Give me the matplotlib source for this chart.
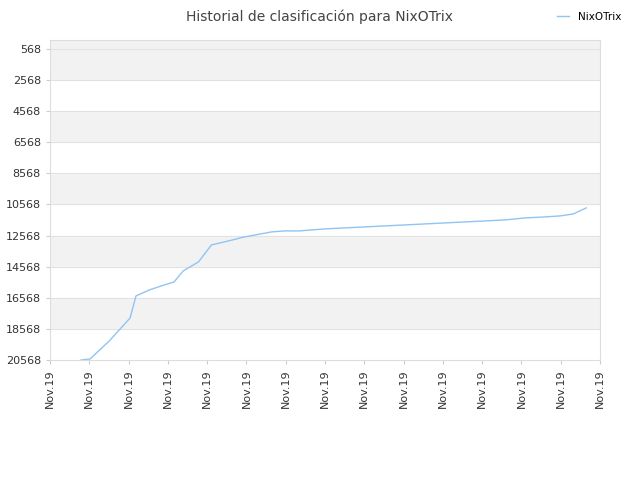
import matplotlib
matplotlib.use("Agg")
import matplotlib.pyplot as plt

x_pos = [0.79, 1.02, 1.51, 2.04, 2.19, 2.53, 2.91, 3.16, 3.39, 3.78, 4.11, 4.44, 4.95, 5.64, 5.97,
         6.35, 6.99, 7.50, 8.01, 8.52, 9.03, 9.54, 10.05, 10.56, 11.07, 11.58, 12.09, 12.60, 12.98, 13.32, 13.65]
rank = [20568, 20504, 19346, 17867, 16452, 16066, 15745, 15552, 14845, 14266, 13173, 12980, 12658, 12336, 12272,
        12272, 12143, 12079, 12015, 11951, 11887, 11822, 11758, 11694, 11630, 11565, 11437, 11372, 11308, 11180, 10793]
y_ticks = [568, 2568, 4568, 6568, 8568, 10568, 12568, 14568, 16568, 18568, 20568]
x_labels = ["Nov.19"] * 15

fig = plt.figure(figsize=(6.4, 4.8), dpi=100)
ax = fig.add_axes([0.078, 0.25, 0.8595, 0.667])
ax.set_ylim(20568, -10)
ax.set_xlim(0, 14)
ax.axhspan(-10, 568, color="#f2f2f2", zorder=0)
for i in range(len(y_ticks) - 1):
    if i % 2 == 0:
        ax.axhspan(y_ticks[i], y_ticks[i + 1], color="#f2f2f2", zorder=0)
for t in y_ticks:
    ax.axhline(t, color="#e0e0e0", lw=0.6, zorder=1)
ax.plot(x_pos, rank, color="#90c4f4", lw=1, label="NixOTrix", zorder=2)
ax.set_yticks(y_ticks)
ax.set_yticklabels([str(v) for v in y_ticks], fontsize=8, color="#333333")
ax.set_xticks(range(15))
ax.set_xticklabels(x_labels, rotation=90, fontsize=8, color="#333333")
for s in ax.spines.values():
    s.set_color("#dddddd")
ax.tick_params(length=3, color="#cccccc")
fig.text(0.5, 0.965, "Historial de clasificación para NixOTrix", ha="center", va="center", fontsize=10, color="#444444")
fig.legend(loc="upper right", bbox_to_anchor=(0.985, 0.995), frameon=False, fontsize=7.5, handlelength=1.2)
fig.savefig("out.png", dpi=100)
